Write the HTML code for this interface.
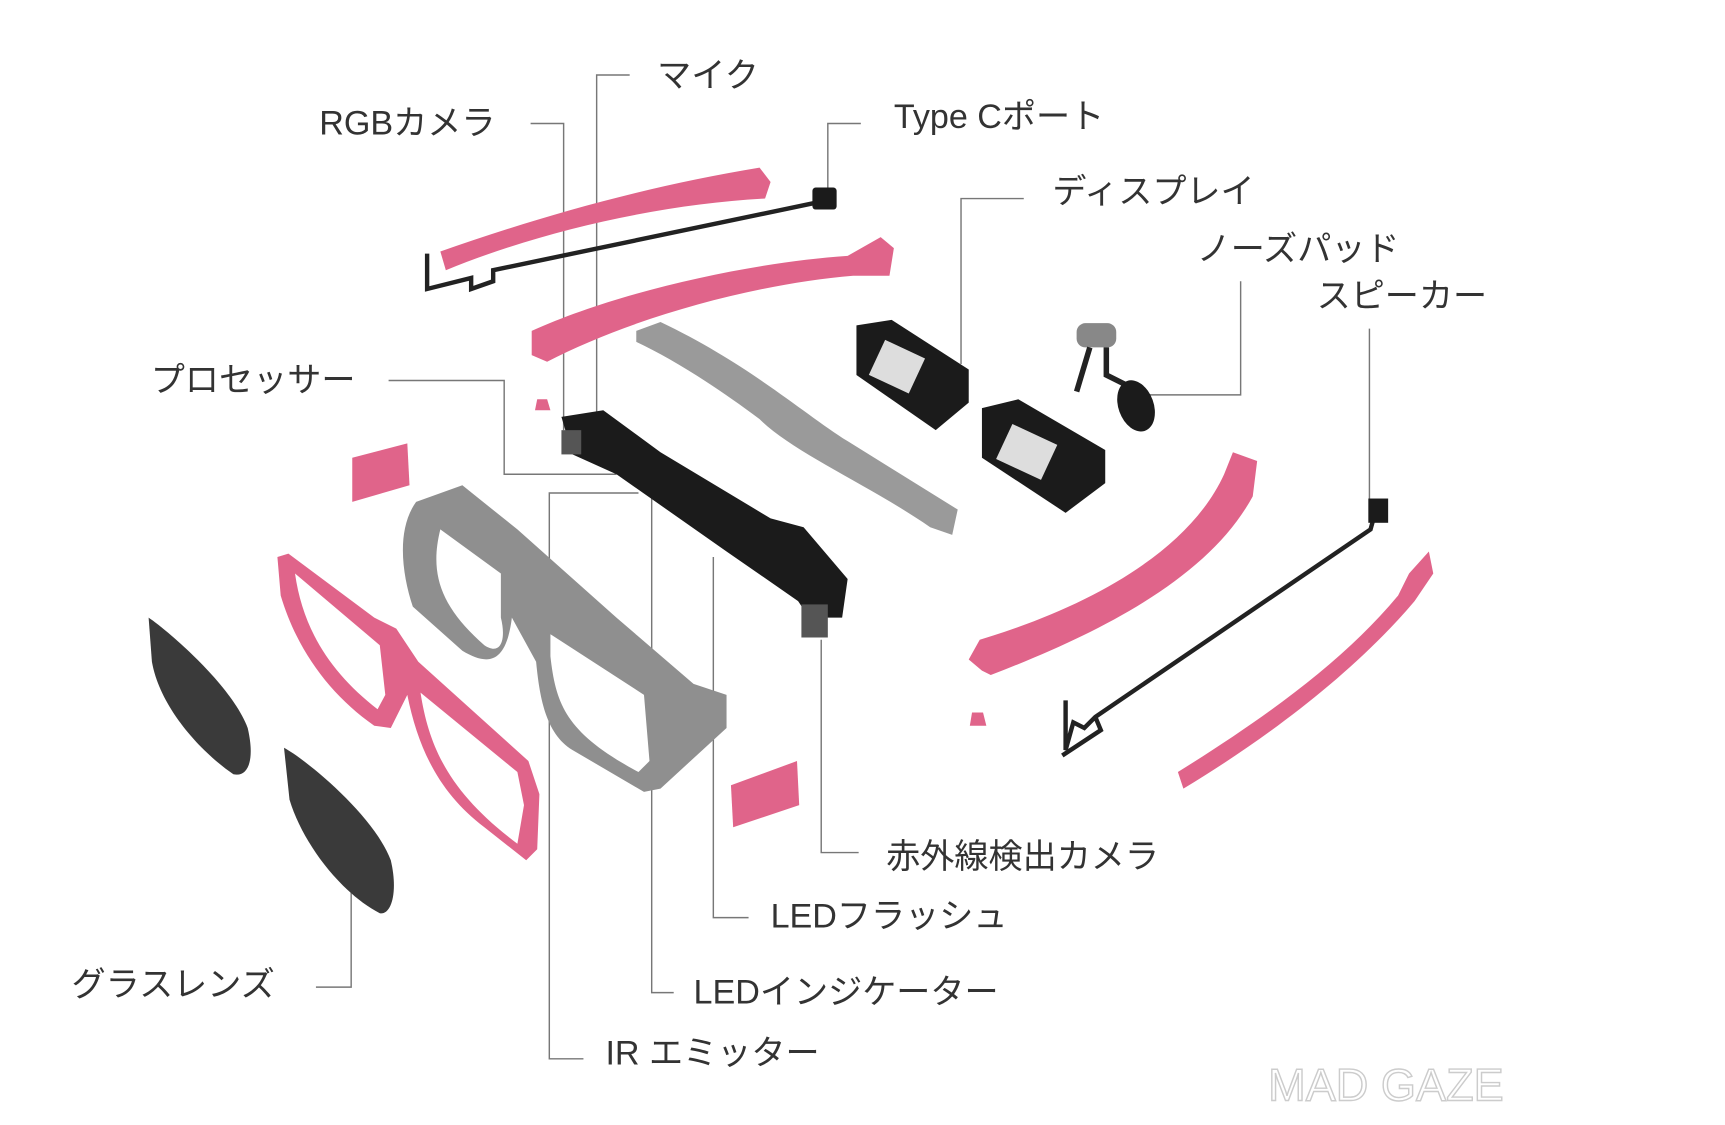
<!DOCTYPE html>
<html><head><meta charset="utf-8"><style>
html,body{margin:0;padding:0;background:#fff;}
svg{display:block;}
text{font-family:"Liberation Sans","Noto Sans CJK JP",sans-serif;fill:#333;font-size:31px;}
.l{stroke:#777;stroke-width:1.3;fill:none;}
.p{fill:#e0648a;}
.k{fill:#1b1b1b;}
.g{fill:#9a9a9a;}
</style></head><body>
<svg width="1725" height="1125" viewBox="0 0 1567 1020" preserveAspectRatio="none">
<path class="l" d="M572,68 H542 V380"/>
<path class="l" d="M482,112 H512 V390"/>
<path class="l" d="M782,112 H752 V172"/>
<path class="l" d="M930,180 H873 V330"/>
<path class="l" d="M1127,255 V358 H1030"/>
<path class="l" d="M1244,298 V455"/>
<path class="l" d="M353,345 H458 V430 H560"/>
<path class="l" d="M780,773 H746 V580"/>
<path class="l" d="M680,832 H648 V505"/>
<path class="l" d="M612,900 H592 V450"/>
<path class="l" d="M530,960 H499 V447 H580"/>
<path class="l" d="M287,895 H319 V800"/>

<path class="p" d="M400,228 C480,200 580,170 690,152 L700,165 L695,180 C600,185 490,210 405,245 Z"/>
<path d="M388,230 V262 L428,252 V262 L448,255 V245 L745,183" stroke="#222" stroke-width="4" fill="none"/>
<rect class="k" x="738" y="170" width="22" height="20" rx="3"/>
<path class="p" d="M483,300 C560,265 680,238 770,232 L800,215 L812,225 L808,250 L775,250 C680,258 570,290 497,328 L483,322 Z"/>
<path class="g" d="M578,300 L600,292 C680,330 730,375 770,400 L870,462 L865,485 L845,478 C790,440 720,410 690,380 C650,350 610,325 578,310 Z"/>
<path class="k" d="M778,295 L810,290 L880,335 L880,365 L850,390 L778,340 Z"/>
<rect x="795" y="315" width="40" height="35" fill="#ddd" transform="rotate(25 815 332)"/>
<path class="k" d="M892,370 L925,362 L1004,408 L1004,438 L968,465 L892,415 Z"/>
<rect x="910" y="392" width="45" height="35" fill="#ddd" transform="rotate(25 932 410)"/>
<rect x="978" y="293" width="36" height="22" rx="8" fill="#888"/>
<path d="M990,315 L978,355 M1005,315 L1005,340 L1025,350" stroke="#222" stroke-width="5" fill="none"/>
<ellipse class="k" cx="1032" cy="368" rx="16" ry="24" transform="rotate(-20 1032 368)"/>
<path class="k" d="M510,378 L548,372 L600,410 L700,470 L730,478 L770,525 L765,560 L735,560 L725,545 L660,500 L560,430 L520,412 Z"/>
<rect x="728" y="548" width="24" height="30" fill="#555"/>
<rect x="510" y="390" width="18" height="22" fill="#555"/>
<path class="p" d="M488,362 L497,362 L500,372 L486,372 Z"/>
<path class="p" d="M320,415 L370,402 L372,440 L320,455 Z"/>
<path class="p" d="M664,712 L724,690 L726,730 L666,750 Z"/>
<path class="p" d="M883,646 L893,646 L896,658 L881,658 Z"/>
<path d="M378,455 L420,440 L470,480 L560,560 L630,620 L660,630 L660,660 L600,715 L585,718 L520,680 C495,665 490,630 487,600 L465,560 C460,600 445,605 420,590 L375,550 C365,520 360,480 378,455 Z M400,480 C390,520 400,550 440,585 C455,595 460,580 455,560 L455,520 L400,480 Z M500,595 C505,640 515,665 580,700 L590,690 L585,630 L500,575 Z" fill="#8f8f8f" fill-rule="evenodd"/>
<path d="M252,505 L262,502 L340,560 L360,570 L380,600 L480,690 L490,720 L488,770 L478,780 L440,750 C400,720 380,680 370,630 L355,660 L340,658 C300,630 270,590 255,540 Z M268,520 C275,570 300,610 343,643 L350,630 L345,585 Z M382,628 C390,680 410,720 470,765 L476,730 L470,700 Z" class="p" fill-rule="evenodd"/>
<path d="M135,560 C150,570 210,620 225,660 C232,690 225,705 212,702 C180,680 145,640 138,600 Z" fill="#3a3a3a"/>
<path d="M258,678 C280,690 340,740 355,780 C362,810 355,830 345,828 C310,810 275,765 263,725 Z" fill="#3a3a3a"/>
<path class="p" d="M1120,410 L1142,418 L1138,450 C1100,520 1010,570 900,612 L892,608 L880,598 L890,580 C990,550 1080,500 1112,430 Z"/>
<path d="M1250,462 L1245,480 L995,650 L985,660 L975,655 L968,680 V635 M995,650 L1000,662 L965,685" stroke="#222" stroke-width="4" fill="none"/>
<rect class="k" x="1243" y="452" width="18" height="22"/>
<path class="p" d="M1298,500 L1302,520 L1285,545 C1230,610 1150,670 1075,715 L1070,700 C1150,650 1220,600 1270,540 L1280,520 Z"/>

<text x="597" y="79">マイク</text>
<text x="290" y="122">RGBカメラ</text>
<text x="812" y="116">Type Cポート</text>
<text x="956" y="184">ディスプレイ</text>
<text x="1087" y="236">ノーズパッド</text>
<text x="1196" y="279">スピーカー</text>
<text x="137" y="355">プロセッサー</text>
<text x="805" y="787">赤外線検出カメラ</text>
<text x="700" y="841">LEDフラッシュ</text>
<text x="630" y="910">LEDインジケーター</text>
<text x="550" y="965">IR エミッター</text>
<text x="65" y="903">グラスレンズ</text>
<text x="1152" y="998" style="font-size:41px;fill:none;stroke:#ccc;stroke-width:1.3;">MAD GAZE</text>
</svg>
</body></html>
